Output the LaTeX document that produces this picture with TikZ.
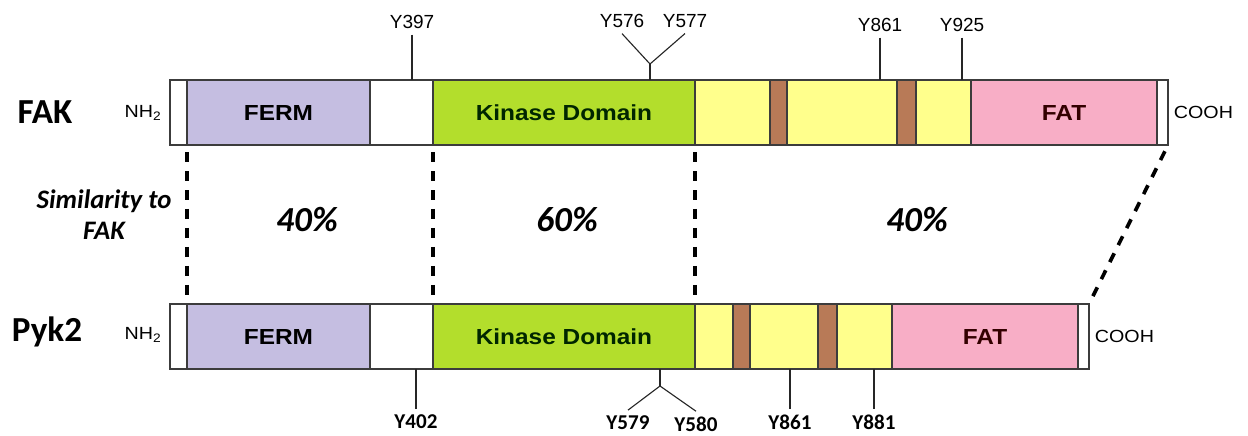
\documentclass[tikz,border=0pt]{standalone}
\usepackage{fontspec}
\setmainfont{Liberation Sans}
\newfontfamily\carlito{Carlito}
\newfontfamily\widesans[FakeStretch=1.12]{Liberation Sans}
\usetikzlibrary{positioning}
\definecolor{barline}{HTML}{3C3C3C}
\definecolor{fermcol}{HTML}{C5BEE1}
\definecolor{kincol}{HTML}{B3DE2C}
\definecolor{linkcol}{HTML}{FFFF8C}
\definecolor{boxcol}{HTML}{B87A57}
\definecolor{fatcol}{HTML}{F8AEC6}

\begin{document}
\begin{tikzpicture}[x=0.025cm,y=-0.025cm,
  dom/.style={draw=barline,line width=0.8pt,fill=#1,minimum height=1.625cm,inner sep=0pt,outer sep=0pt,
              font=\widesans\bfseries\fontsize{15.5}{17}\selectfont},dom/.default=white,
  wd/.style={minimum width=#1*0.025cm},
  term/.style={font=\widesans\fontsize{12.5}{14}\selectfont,inner sep=1pt},
  prot/.style={font=\carlito\bfseries\fontsize{25}{27}\selectfont},
  site/.style={font=\fontsize{13.5}{15}\selectfont,inner xsep=1pt,inner ysep=4pt},
  bsite/.style={font=\carlito\bfseries\fontsize{15}{17}\selectfont,inner xsep=1pt,inner ysep=4pt},
  tick/.style={draw=black!85,line width=0.8pt},
  simline/.style={line width=2.6pt,dash pattern=on 7pt off 6.5pt,shorten <=5pt,shorten >=5pt},
  simtxt/.style={font=\carlito\bfseries\itshape\fontsize{25}{28}\selectfont}]
  \useasboundingbox (0,0) rectangle (1248,435);

  \node[prot] (fak) at (45,112) {FAK};
  \node[term] (fnh) at (143,113) {NH\textsubscript{2}};
  \node[dom,wd=17,anchor=west] (fN) at (170,112.5) {};
  \node[dom=fermcol,wd=183,right=0pt of fN] (fFerm) {FERM};
  \node[dom,wd=63,right=0pt of fFerm] (fLink) {};
  \node[dom=kincol,wd=262,right=0pt of fLink] (fKin) {\color{black!85!green}Kinase Domain};
  \node[dom=linkcol,wd=75,right=0pt of fKin] (fY1) {};
  \node[dom=boxcol,wd=17,right=0pt of fY1] (fB1) {};
  \node[dom=linkcol,wd=110,right=0pt of fB1] (fY2) {};
  \node[dom=boxcol,wd=19,right=0pt of fY2] (fB2) {};
  \node[dom=linkcol,wd=55,right=0pt of fB2] (fY3) {};
  \node[dom=fatcol,wd=186,right=0pt of fY3] (fFat) {\color{black!80!red}FAT};
  \node[dom,wd=11,right=0pt of fFat] (fC) {};
  \node[term,right=3pt of fC] (fcooh) {COOH};

  \node[prot] (pyk) at (47,332) {Pyk2};
  \node[term] (pnh) at (143,335) {NH\textsubscript{2}};
  \node[dom,wd=17,anchor=west] (pN) at (170,336.5) {};
  \node[dom=fermcol,wd=183,right=0pt of pN] (pFerm) {FERM};
  \node[dom,wd=63,right=0pt of pFerm] (pLink) {};
  \node[dom=kincol,wd=262,right=0pt of pLink] (pKin) {\color{black!85!green}Kinase Domain};
  \node[dom=linkcol,wd=38,right=0pt of pKin] (pY1) {};
  \node[dom=boxcol,wd=17,right=0pt of pY1] (pB1) {};
  \node[dom=linkcol,wd=68,right=0pt of pB1] (pY2) {};
  \node[dom=boxcol,wd=19,right=0pt of pY2] (pB2) {};
  \node[dom=linkcol,wd=55,right=0pt of pB2] (pY3) {};
  \node[dom=fatcol,wd=186,right=0pt of pY3] (pFat) {\color{black!80!red}FAT};
  \node[dom,wd=11,right=0pt of pFat] (pC) {};
  \node[term,right=3pt of pC] (pcooh) {COOH};

  \node[site] (y397) at (412,22) {Y397};
  \node[site] (y576) at (622,21) {Y576};
  \node[site] (y577) at (685,21) {Y577};
  \node[site] (fy861) at (880,25) {Y861};
  \node[site] (y925) at (962,25) {Y925};
  \coordinate (fork1) at (650,64);
  \draw[tick] (y397.south) -- (y397.south |- fLink.north);
  \draw[tick] (y576.south) -- (fork1) -- (y577.south);
  \draw[tick] (fork1) -- (fork1 |- fKin.north);
  \draw[tick] (fy861.south) -- (fy861.south |- fY2.north);
  \draw[tick] (y925.south) -- (y925.south |- fY3.north);

  \node[bsite] (y402) at (416,422) {Y402};
  \node[bsite] (y579) at (628,423) {Y579};
  \node[bsite] (y580) at (696,424.5) {Y580};
  \node[bsite] (py861) at (790,422) {Y861};
  \node[bsite] (y881) at (874,422) {Y881};
  \coordinate (fork2) at (660,386);
  \draw[tick] (y402.north) -- (y402.north |- pLink.south);
  \draw[tick] (y579.north) -- (fork2) -- (y580.north);
  \draw[tick] (fork2) -- (fork2 |- pKin.south);
  \draw[tick] (py861.north) -- (py861.north |- pY2.south);
  \draw[tick] (y881.north) -- (y881.north |- pY3.south);

  \draw[simline] (fFerm.south west) -- (pFerm.north west);
  \draw[simline] (fKin.south west) -- (pKin.north west);
  \draw[simline] (fKin.south east) -- (pKin.north east);
  \draw[simline] (fC.south east) -- (pC.north east);

  \node[simtxt,font=\carlito\bfseries\itshape\fontsize{19}{22}\selectfont,align=center] (simlbl) at (104,215) {Similarity to\\FAK};
  \node[simtxt] (sim1) at (307,220) {40\%};
  \node[simtxt] (sim2) at (567,220) {60\%};
  \node[simtxt] (sim3) at (917,220) {40\%};
\end{tikzpicture}
\end{document}
